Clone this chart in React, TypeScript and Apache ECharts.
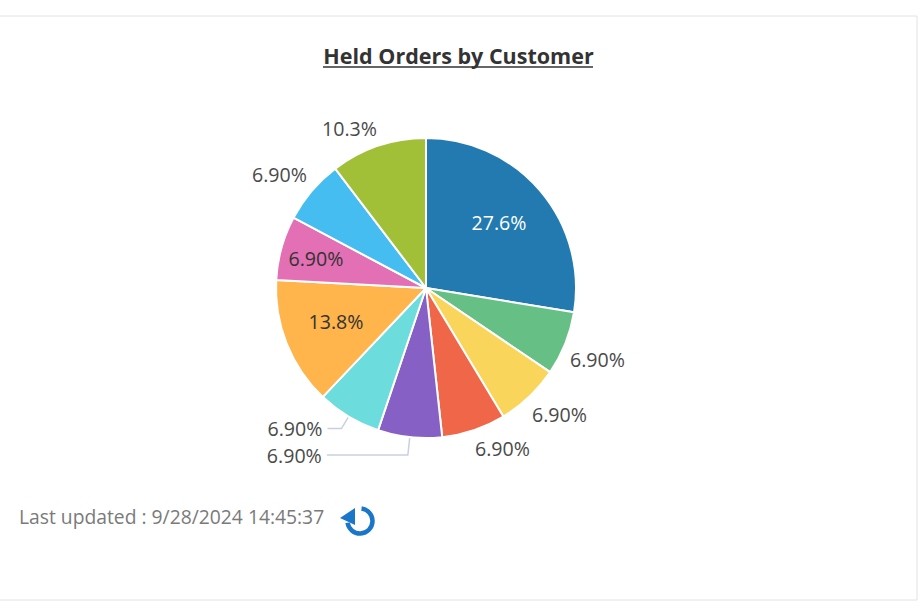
import React, { useEffect, useRef } from "react";
import * as echarts from "echarts";

const values = [8, 2, 2, 2, 2, 2, 4, 2, 2, 3];
const percentLabels = ["27.6%", "6.90%", "6.90%", "6.90%", "6.90%", "6.90%", "13.8%", "6.90%", "6.90%", "10.3%"];
const sliceColors = ["#227AB0", "#66C085", "#FAD55C", "#EF6648", "#8760C5", "#6CDCDC", "#FFB44C", "#E36FB4", "#46BDF0", "#A2BF38"];
const titleText = "Held Orders by Customer";
const updatedText = "Last updated : 9/28/2024 14:45:37";
const FONT = "'Open Sans', sans-serif";
const TEXT = "#4a4a4a";

// Hand-placed label anchors [x, y, align]; teal and purple use the pie's own leader lines.
const anchors: Record<number, [number, number, string]> = {
  0: [499, 222, "center"],
  1: [570, 359, "left"],
  2: [532, 414, "left"],
  3: [475, 448, "left"],
  6: [336, 321, "center"],
  7: [316, 258, "center"],
  8: [252, 174, "left"],
  9: [322, 128, "left"],
};
const insideSlices = [0, 6, 7];

export default function App() {
  const ref = useRef<HTMLDivElement>(null);
  useEffect(() => {
    const chart = echarts.init(ref.current!, undefined, { renderer: "svg" });
    chart.setOption({
      animation: false,
      backgroundColor: "#ffffff",
      title: {
        text: titleText,
        left: 453.5,
        top: 39,
        textAlign: "center",
        textStyle: { fontFamily: FONT, fontSize: 21.5, fontWeight: 700, color: "#333333" },
      },
      series: [
        {
          type: "pie",
          center: [426, 288],
          radius: [0, 150],
          startAngle: 90,
          clockwise: true,
          avoidLabelOverlap: false,
          silent: true,
          itemStyle: { borderColor: "#ffffff", borderWidth: 2 },
          data: values.map((v, i) => ({
            value: v,
            name: String(i),
            itemStyle: { color: sliceColors[i] },
            label: {
              color: i === 0 ? "#ffffff" : insideSlices.includes(i) ? "#333333" : TEXT,
              formatter: () => percentLabels[i],
            },
            labelLine:
              i === 4
                ? { show: true, length: 18, length2: 81 }
                : i === 5
                ? { show: true, length: 14, length2: 14 }
                : { show: false },
          })),
          label: { show: true, fontFamily: FONT, fontSize: 19.6, distanceToLabelLine: 5 },
          labelLine: { lineStyle: { color: "#c8d0e0", width: 1.5 }, smooth: false },
          labelLayout: (p: any) => {
            const a = anchors[p.dataIndex];
            if (!a) return {};
            return { x: a[0], y: a[1], align: a[2], verticalAlign: "middle" };
          },
        },
      ],
      graphic: [
        { type: "rect", silent: true, shape: { x: -2, y: 16, width: 919, height: 584 }, style: { fill: "none", stroke: "#e2e2e2", lineWidth: 1 } },
        { type: "line", silent: true, shape: { x1: 323, y1: 67, x2: 593, y2: 67 }, style: { stroke: "#333333", lineWidth: 1.5 } },
        { type: "text", silent: true, x: 19, y: 516, style: { text: updatedText, fontFamily: FONT, fontSize: 19.3, fill: "#7a7a7a", verticalAlign: "middle" } },
        { type: "arc", silent: true, shape: { cx: 360, cy: 521, r: 12.5, startAngle: -1.45, endAngle: 3.0, clockwise: true }, style: { fill: "none", stroke: "#1976C8", lineWidth: 4.5 } },
        { type: "polygon", silent: true, shape: { points: [[340, 518], [355, 508], [355, 525]] }, style: { fill: "#1976C8" } },
      ],
    });
    return () => chart.dispose();
  }, []);
  return <div ref={ref} style={{ position: "fixed", left: 0, top: 0, width: 923, height: 606 }} />;
}
